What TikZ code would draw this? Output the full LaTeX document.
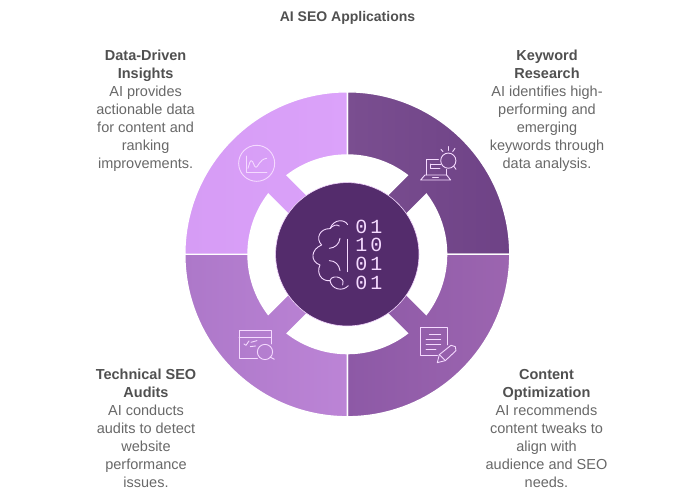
\documentclass[tikz,border=0pt]{standalone}
\usepackage{fontspec}
\setmainfont{Liberation Sans}
\newfontfamily\bitsfont[LetterSpace=15]{Liberation Mono}
\usepackage{tikz}
\usetikzlibrary{calc, matrix, positioning}
\definecolor{hubcolor}{HTML}{542C6C}
\definecolor{iconcolor}{HTML}{F5DAFF}
\definecolor{headcolor}{HTML}{505050}
\definecolor{bodycolor}{HTML}{686868}
\tikzset{
	quadrant/.style={draw=white, line width=1.4pt},
	gapshape/.style={fill=white},
	icon/.style={draw=iconcolor, line width=0.9pt, line join=round, line cap=round},
	blurb/.style={align=center, text=bodycolor, inner sep=0pt, font=\fontsize{14.5}{18}\selectfont},
}
\newcommand{\headline}[1]{\textbf{\textcolor{headcolor}{#1}}}

\begin{document}
\begin{tikzpicture}[x=1pt, y=1pt]
	\useasboundingbox (0,0) rectangle (700,500);
	\coordinate (c) at (347.3,245.7);

	% quadrants
	\path[quadrant, left color={rgb,255:red,122;green,78;blue,144}, right color={rgb,255:red,110;green,66;blue,134}]
	(c) -- ++(0:162.5) arc[start angle=0, end angle=90, radius=162.5] -- cycle;
	\path[quadrant, left color={rgb,255:red,141;green,89;blue,166}, right color={rgb,255:red,156;green,101;blue,176}]
	(c) -- ++(270:162.5) arc[start angle=270, end angle=360, radius=162.5] -- cycle;
	\path[quadrant, left color={rgb,255:red,173;green,120;blue,201}, right color={rgb,255:red,188;green,132;blue,214}]
	(c) -- ++(180:162.5) arc[start angle=180, end angle=270, radius=162.5] -- cycle;
	\path[quadrant, left color={rgb,255:red,214;green,156;blue,245}, right color={rgb,255:red,219;green,162;blue,250}]
	(c) -- ++(90:162.5) arc[start angle=90, end angle=180, radius=162.5] -- cycle;

	% white arcs
	\fill[gapshape] ($(c)+(52.3:100)$) arc[start angle=52.3, end angle=127.7, radius=100] -- ($(c)+(124.8:71.7)$) arc[start angle=124.8, end angle=55.2, radius=71.7] -- cycle;
	\fill[gapshape] ($(c)+(142.3:100)$) arc[start angle=142.3, end angle=217.7, radius=100] -- ($(c)+(214.8:71.7)$) arc[start angle=214.8, end angle=145.2, radius=71.7] -- cycle;
	\fill[gapshape] ($(c)+(232.3:100)$) arc[start angle=232.3, end angle=307.7, radius=100] -- ($(c)+(304.8:71.7)$) arc[start angle=304.8, end angle=235.2, radius=71.7] -- cycle;
	\fill[gapshape] ($(c)+(322.3:100)$) arc[start angle=322.3, end angle=397.7, radius=100] -- ($(c)+(394.8:71.7)$) arc[start angle=394.8, end angle=325.2, radius=71.7] -- cycle;

	\node[circle, minimum size=143.4pt, inner sep=0pt, fill=hubcolor, draw=iconcolor, line width=0.6pt] (hub) at (c) {};

	\matrix (bits) [matrix of nodes, row sep=3.7pt, nodes={inner sep=0pt, text=iconcolor, font=\bitsfont\fontsize{20}{20}\selectfont, minimum height=15pt}] at (368.8,245.4)
	{
		01 \\
		10 \\
		01 \\
		01 \\
	};

	% icons, in the coordinates of the enlarged crop
	\begin{scope}[shift={(180,410)}, x=0.3333pt, y=-0.3333pt]
		% brain
		\draw[icon] (502,448) -- (502,545);
		\draw[icon] (503,404) .. controls (495,388) and (462,385) .. (450,416)
		.. controls (420,415) and (405,445) .. (425,465)
		.. controls (392,478) and (390,515) .. (420,525)
		.. controls (408,550) and (425,575) .. (450,572)
		.. controls (455,600) and (490,605) .. (505,587);
		\draw[icon] (450,416) .. controls (458,406) and (470,402) .. (478,408);
		\draw[icon] (448,475) .. controls (465,474) and (478,462) .. (480,445);
		\draw[icon] (448,512) .. controls (465,512) and (478,524) .. (480,542);
		\draw[icon] (450,572) .. controls (452,560) and (470,558) .. (480,564) .. controls (490,570) and (492,578) .. (488,585);
		% chart
		\draw[icon] (230,220) circle[radius=18pt];
		\draw[icon] (200,198) -- (200,246) -- (261,246);
		\draw[icon] (204,235) .. controls (208,222) and (210,212) .. (214,212) .. controls (220,212) and (222,232) .. (228,232) .. controls (234,232) and (238,208) .. (260,205);
		% laptop
		\draw[icon] (738,255) -- (738,208) -- (775,208);
		\draw[icon] (751,222) -- (782,222);
		\draw[icon] (751,222) -- (751,235) -- (780,235);
		\draw[icon] (735,255) -- (722,270) -- (812,270) -- (800,255) -- cycle;
		\draw[icon] (800,255) -- (800,238);
		\draw[icon] (758,263) -- (775,263);
		\draw[icon] (805,212) circle[radius=7.6pt];
		\draw[icon] (821,228) -- (828,238);
		\draw[icon] (783,178) -- (789,185);
		\draw[icon] (805,170) -- (805,181);
		\draw[icon] (825,175) -- (818,185);
		% audit window
		\draw[icon] (232,805) -- (177,805) -- (177,722) -- (273,722) -- (273,762);
		\draw[icon] (177,741) -- (273,741);
		\draw[icon] (192,762) -- (198,766) -- (207,753);
		\draw[icon] (213,757) -- (231,752);
		\draw[icon] (211,770) -- (227,768);
		\draw[icon] (255,786) circle[radius=7.6pt];
		\draw[icon] (270,801) -- (283,808);
		% document
		\draw[icon] (772,795) -- (722,795) -- (722,712) -- (802,712) -- (802,765);
		\draw[icon] (748,732) -- (782,732);
		\draw[icon] (738,748) -- (782,748);
		\draw[icon] (738,762) -- (782,762);
		\draw[icon] (738,778) -- (768,778);
		\draw[icon] (772,818) -- (778,794) -- (813,766) -- (826,770) -- (828,782) -- (796,812) -- cycle;
		\draw[icon] (778,794) -- (796,812);
	\end{scope}

	% labels
	\node[font=\bfseries\fontsize{14}{16}\selectfont, text=headcolor, inner sep=0pt] (title) at (347.5,481.7) {AI SEO Applications};
	\node[blurb] (insights) at (145.6,389.5) {\headline{Data-Driven}\\\headline{Insights}\\AI provides\\actionable data\\for content and\\ranking\\improvements.};
	\node[blurb] (keyword) at (547,389.5) {\headline{Keyword}\\\headline{Research}\\AI identifies high-\\performing and\\emerging\\keywords through\\data analysis.};
	\node[blurb] (audits) at (146,71.5) {\headline{Technical SEO}\\\headline{Audits}\\AI conducts\\audits to detect\\website\\performance\\issues.};
	\node[blurb] (content) at (546.5,71.5) {\headline{Content}\\\headline{Optimization}\\AI recommends\\content tweaks to\\align with\\audience and SEO\\needs.};
\end{tikzpicture}
\end{document}
